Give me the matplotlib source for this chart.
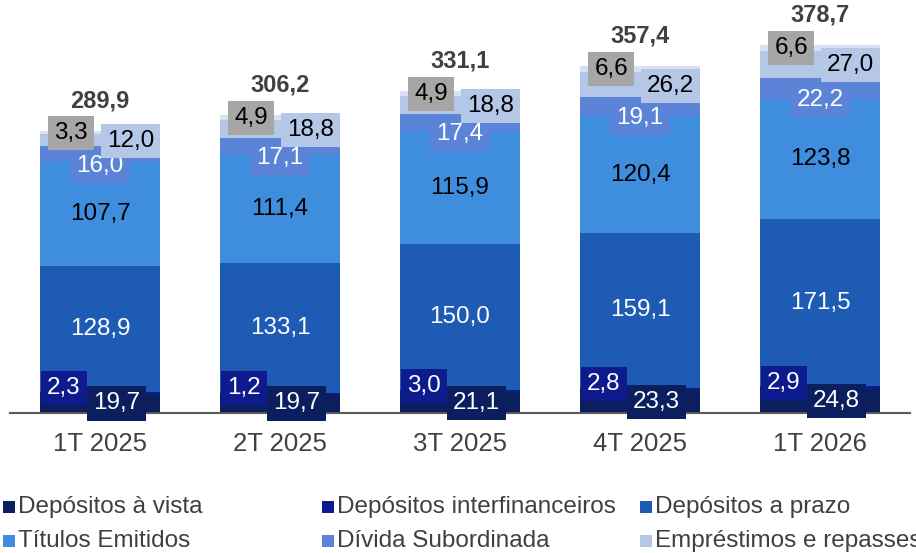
import matplotlib
matplotlib.use("Agg")
import matplotlib.pyplot as plt
import matplotlib.patches as patches
import numpy as np

plt.rcParams['font.family'] = ['Liberation Sans', 'DejaVu Sans']

# dados (R$ bilhões)
periodos = ['1T 2025', '2T 2025', '3T 2025', '4T 2025', '1T 2026']
dep_vista = [19.7, 19.7, 21.1, 23.3, 24.8]
dep_interfin = [2.3, 1.2, 3.0, 2.8, 2.9]
dep_prazo = [128.9, 133.1, 150.0, 159.1, 171.5]
titulos = [107.7, 111.4, 115.9, 120.4, 123.8]
divida_sub = [16.0, 17.1, 17.4, 19.1, 22.2]
emprestimos = [12.0, 18.8, 18.8, 26.2, 27.0]
outros = [3.3, 4.9, 4.9, 6.6, 6.6]
totais = [289.9, 306.2, 331.1, 357.4, 378.7]

nomes = ['Depósitos à vista', 'Depósitos interfinanceiros', 'Depósitos a prazo',
         'Títulos Emitidos', 'Dívida Subordinada', 'Empréstimos e repasses', 'Outros']
series = [dep_vista, dep_interfin, dep_prazo, titulos, divida_sub, emprestimos, outros]
cores = ['#0b1f5e', '#0d1b8e', '#1e5bb5', '#3f8ddd', '#5b84d8', '#b4c7e7', '#d8e1f3']
# estilo dos rótulos: cor do texto, fundo da caixa, deslocamento x, deslocamento y
cor_texto = ['white', 'white', 'white', 'black', 'white', 'black', 'black']
cor_caixa = ['#0b1f5e', '#0d1b8e', None, None, '#5b84d8', '#b4c7e7', '#a6a6a6']
desloc_x = [0.09, -0.2, 0, 0, 0, 0.17, -0.16]
desloc_y = [0, 5, 0, 0, -12, -1, 0]

fig = plt.figure(figsize=(9.16, 5.53), dpi=100)
ax = fig.add_axes([10 / 916, 1 - 413 / 553, 900 / 916, 413 / 553])

x = np.arange(len(periodos))
base = np.zeros(len(periodos))
for nome, vals, cor, ct, cc, dx, dy in zip(nomes, series, cores, cor_texto,
                                           cor_caixa, desloc_x, desloc_y):
    vals = np.array(vals)
    ax.bar(x, vals, bottom=base, width=0.667, color=cor, linewidth=0, zorder=2)
    for i, v in enumerate(vals):
        box = None
        if cc is not None:
            box = dict(boxstyle='square,pad=0.25', facecolor=cc, edgecolor='none')
        ax.text(x[i] + dx, base[i] + v / 2 + dy, f'{v:.1f}'.replace('.', ','),
                ha='center', va='center', fontsize=17.5, color=ct,
                bbox=box, zorder=4)
    base = base + vals

for i, t in enumerate(totais):
    ax.text(x[i], t + 31, f'{t:.1f}'.replace('.', ','), ha='center', va='center',
            fontsize=17, fontweight='bold', color='#404040', zorder=5)

ax.set_xlim(-0.5, 4.5)
ax.set_ylim(0, 425)
ax.set_xticks(x)
ax.set_xticklabels(periodos, fontsize=18.5, color='#404040')
ax.tick_params(axis='x', length=0, pad=14)
ax.set_yticks([])
for lado in ['top', 'right', 'left']:
    ax.spines[lado].set_visible(False)
ax.spines['bottom'].set_color('#595959')
ax.spines['bottom'].set_linewidth(1.5)
ax.spines['bottom'].set_zorder(3)
ax.patch.set_alpha(0)

# legenda manual (colunas com larguras diferentes)
col_x = [3, 322, 640]
lin_y = [507, 541]
for k in range(6):
    cx = col_x[k % 3]
    cy = lin_y[k // 3]
    fig.add_artist(patches.Rectangle((cx / 916, 1 - (cy + 6) / 553), 12 / 916, 12 / 553,
                                     facecolor=cores[k], edgecolor='none',
                                     transform=fig.transFigure))
    fig.text((cx + 15) / 916, 1 - cy / 553, nomes[k], ha='left', va='center',
             fontsize=17.5, color='#404040')

fig.savefig('out.png', dpi=100)
